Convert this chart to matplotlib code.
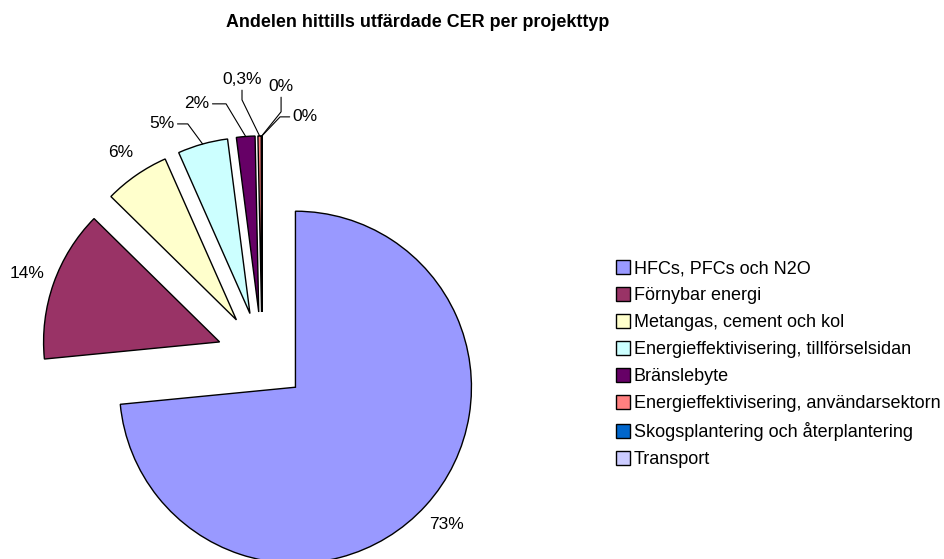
import numpy as np
import matplotlib
matplotlib.use("Agg")
from matplotlib import pyplot as plt

plt.rcParams['font.family'] = ['Liberation Sans', 'DejaVu Sans']

title = "Andelen hittills utfärdade CER per projekttyp"

categories = [
    "HFCs, PFCs och N2O",
    "Förnybar energi",
    "Metangas, cement och kol",
    "Energieffektivisering, tillförselsidan",
    "Bränslebyte",
    "Energieffektivisering, användarsektorn",
    "Skogsplantering och återplantering",
    "Transport",
]
shares = [73.4, 13.9, 6.0, 4.6, 1.7, 0.3, 0.02, 0.01]
colors = ["#9999FF", "#993366", "#FFFFCC", "#CCFFFF",
          "#660066", "#FF8080", "#0066CC", "#CCCCFF"]


def pct_text(v):
    if v < 1 and round(v, 1) > 0:
        return f"{v:.1f}%".replace(".", ",")
    return f"{v:.0f}%"


fig = plt.figure(figsize=(9.45, 5.59), dpi=100)
ax = fig.add_axes([0, 0, 600 / 945, 1])

wedges, _ = ax.pie(
    shares,
    colors=colors,
    explode=[0.256] * len(shares),
    startangle=90,
    counterclock=False,
    radius=1.0,
    wedgeprops=dict(edgecolor="black", linewidth=1.0),
)
ax.set_aspect('equal')
ax.set_xlim(-1.489, 1.920)
ax.set_ylim(-1.148, 2.028)
ax.axis('off')

# big slices: plain labels outside the arc
for w, v in zip(wedges[:3], shares[:3]):
    mid = np.deg2rad((w.theta1 + w.theta2) / 2)
    cx, cy = w.center
    ax.text(cx + 1.16 * w.r * np.cos(mid), cy + 1.16 * w.r * np.sin(mid),
            pct_text(v), ha='center', va='center', fontsize=12.5)

# small slices: labels with leader lines (text pos, angleA, angleB)
leaders = [
    ((-0.568, 1.324), 0, -53.6),
    ((-0.369, 1.438), 0, -59.0),
    ((-0.114, 1.574), 90, -64.0),
    ((0.108, 1.534), 90, 51.3),
    ((0.244, 1.364), 0, 46.4),
]
for w, v, (pos, a_a, a_b) in zip(wedges[3:], shares[3:], leaders):
    mid = np.deg2rad((w.theta1 + w.theta2) / 2)
    cx, cy = w.center
    tip = (cx + w.r * np.cos(mid), cy + w.r * np.sin(mid))
    ax.annotate(pct_text(v), xy=tip, xytext=pos, ha='center', va='center',
                fontsize=12.5,
                arrowprops=dict(arrowstyle='-', color='black', lw=0.8,
                                shrinkA=0, shrinkB=0,
                                connectionstyle=f"angle,angleA={a_a},angleB={a_b},rad=0"))

fig.text(0.442, 1 - 27 / 559, title, ha='center', va='baseline',
         fontsize=12.9, fontweight='bold')

fig.legend(wedges, categories, loc='center left',
           bbox_to_anchor=(616 / 945, 1 - 364 / 559),
           frameon=False, fontsize=13, handlelength=0.78, handleheight=0.78,
           handletextpad=0.2, labelspacing=0.55, borderpad=0, borderaxespad=0)

fig.savefig("out.png", dpi=100)
